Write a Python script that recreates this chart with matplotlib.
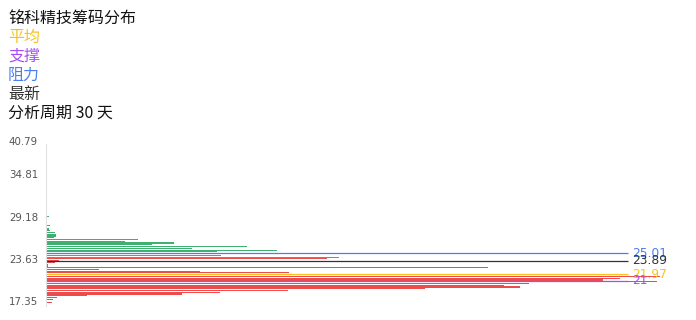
import matplotlib
matplotlib.use('Agg')
import matplotlib.pyplot as plt

plt.rcParams['font.family'] = ['Noto Sans CJK SC', 'DejaVu Sans']

# 价格档位 (从低到高)
prices = [17.82, 18.07, 18.33, 18.58, 18.84, 19.09, 19.34, 19.60, 19.85, 20.11,
          20.36, 20.61, 20.87, 21.12, 21.38, 21.63, 21.88, 22.14, 22.39, 22.65,
          22.90, 23.15, 23.41, 23.66, 23.92, 24.17, 24.42, 24.68, 24.93, 25.19,
          25.44, 25.69, 25.95, 26.20, 26.46, 26.71, 26.96, 27.22, 27.47, 27.73,
          27.98, 28.23, 28.49, 28.74, 29.00, 29.25, 29.50, 29.76, 30.01, 30.27,
          30.52, 30.77, 31.03, 31.28, 31.54, 31.79]
# 每档筹码量 (相对值)
volumes = [6, 1, 7, 11, 41, 136, 174, 242, 379, 474,
           458, 483, 611, 557, 574, 614, 362, 243, 154, 53,
           442, 2, 2, 9, 13, 281, 293, 175, 324, 171,
           231, 146, 201, 106, 128, 79, 92, 8, 10, 9.7,
           9, 3.7, 3, 1.3, 4, 1.3, 0, 0, 0.5, 3,
           1.3, 0, 0, 0, 0, 1]

split_price = 24.3  # 以下为获利盘(红), 以上为套牢盘(绿)

avg_price = 21.97
support = 21
resistance = 25.01
latest = 23.89
days = 30
stock = '铭科精技'

ytick_labels = ['17.35', '23.63', '29.18', '34.81', '40.79']
ymin, ymax = 17.35, 40.79

fig = plt.figure(figsize=(6.96, 3.2), dpi=100)
ax = fig.add_axes([46 / 696, 14 / 320, 614 / 696, 162 / 320])

colors = ['#ec4c4c' if p < split_price else '#3fb070' for p in prices]
ax.barh(prices, volumes, height=0.17, color=colors, linewidth=0)

xmax = 614
line_end = 582
levels = [(resistance, '#4a7ff0', '25.01'), (latest, '#333333', '23.89'),
          (avg_price, '#ffc21a', '21.97'), (support, '#a64df5', '21')]
for val, col, lab in levels:
    ax.hlines(val, 0, line_end, color=col, linewidth=0.9)
    ax.text(line_end + 4, val, lab, color=col, fontsize=8.8, va='center', ha='left',
            family=['DejaVu Sans'])

ax.set_xlim(0, xmax)
ax.set_ylim(ymin, ymax)
ax.set_xticks([])
ax.set_yticks([])
for s in ['top', 'right', 'bottom']:
    ax.spines[s].set_visible(False)
ax.spines['left'].set_color('#e0e0e0')
ax.spines['left'].set_linewidth(0.8)

# 纵轴标签
tick_fracs = [0.025, 0.284, 0.543, 0.809, 1.012]
for f, lab in zip(tick_fracs, ytick_labels):
    ax.text(-0.013, f, lab, transform=ax.transAxes, ha='right', va='center',
            fontsize=7.4, color='#555555', family=['DejaVu Sans'], clip_on=False)

# 左上角说明
header = [(stock + '筹码分布', '#111111'), ('平均', '#f5c21b'), ('支撑', '#a64df5'),
          ('阻力', '#4a7ff0'), ('最新', '#333333'), ('分析周期 %d 天' % days, '#111111')]
for i, (txt, col) in enumerate(header):
    fig.text(8 / 696, 1 - (18 + 19 * i) / 320, txt, color=col, fontsize=11.5,
             ha='left', va='center')

fig.savefig('out.png', dpi=100)
